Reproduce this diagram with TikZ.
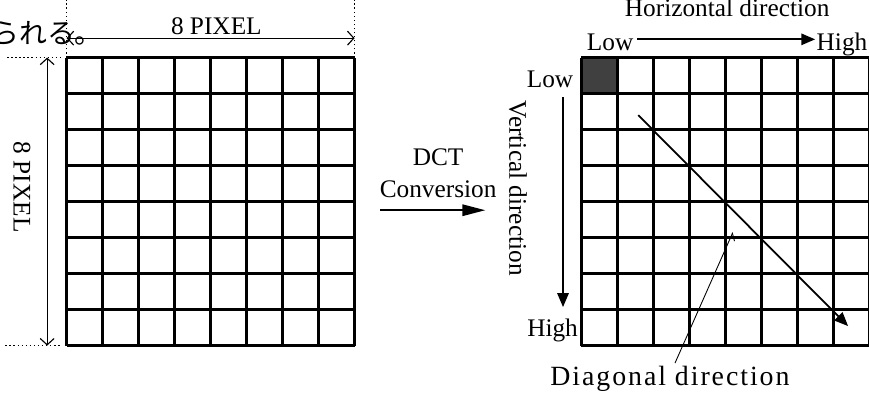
\documentclass[tikz,border=0pt]{standalone}
\usepackage{fontspec}
\setmainfont{Liberation Serif}
\newfontfamily\jpfont{Noto Sans CJK JP}
\usetikzlibrary{arrows.meta}

\begin{document}
\begin{tikzpicture}[
    font=\fontsize{20}{24}\selectfont,
    cell/.style={line width=1.8pt},
    guide/.style={dotted, line width=1.2pt},
    dim/.style={line width=0.9pt,
      {Straight Barb[length=5pt,width=11pt]}-{Straight Barb[length=5pt,width=11pt]}},
    fat/.style={line width=1.4pt, -{Triangle[length=11pt,width=9pt]}},
    pointer/.style={line width=0.7pt, -{Straight Barb[harpoon,swap,length=5pt,width=8pt]}},
  ]
  \useasboundingbox (-1.85,-1.46) rectangle (22.29,9.6);

  % the 8x8 block
  \draw [cell] (0,0) grid (8,8);

  \draw [guide] (0,8) -- (0,9.6);
  \draw [guide] (8,8) -- (8,9.6);
  \draw [guide] (-1.65,8) -- (-0.15,8);
  \draw [guide] (-1.7,0) -- (-0.15,0);

  \node [anchor=east, inner sep=0, font=\jpfont\fontsize{22}{26}\selectfont] (tail) at (1.01,8.66) {られる。};

  \coordinate (w0) at (0,8.54);
  \coordinate (w1) at (8,8.54);
  \draw [dim] (w0) -- node[above, inner sep=2pt, pos=0.52] (wlabel) {8 PIXEL} (w1);

  \coordinate (h0) at (-0.54,8);
  \coordinate (h1) at (-0.54,0);
  \draw [dim] (h0) -- (h1);
  \node [rotate=-90] (hlabel) at (-1.24,4.4) {8 PIXEL};


  % DCT step
  \node [anchor=base] (dct) at (10.32,5.01) {DCT};
  \node [anchor=base] (conv) at (10.32,4.125) {Conversion};
  \coordinate (c0) at (8.71,3.76);
  \coordinate (c1) at (11.63,3.76);
  \draw [line width=1.3pt, -{Triangle[length=18pt,width=9pt]}] (c0) -- (c1);


  % coefficient block
  \fill [black!75] (14.3,7) rectangle (15.3,8);
  \draw [cell, shift={(14.3,0)}] (0,0) grid (8,8);

  \node [anchor=base, inner sep=0] (hdir) at (18.35,9.15) {Horizontal direction};
  \node [anchor=base, inner sep=3pt] (lowh) at (15.1,8.21) {Low};
  \node [anchor=base, inner sep=1pt] (highh) at (21.54,8.21) {High};
  \draw [fat] ([yshift=2pt]lowh.east) -- ([yshift=2pt]lowh.east -| highh.west);

  \node [anchor=base] (lowv) at (13.43,7.18) {Low};
  \node [anchor=base] (highv) at (13.5,0.24) {High};
  \coordinate (v0) at (13.79,6.9);
  \coordinate (v1) at (13.79,1.07);
  \draw [fat] (v0) -- (v1);
  \node [rotate=-90] (vdir) at (12.54,4.37) {Vertical direction};

  \coordinate (d0) at (15.88,6.40);
  \coordinate (d1) at (21.71,0.54);
  \draw [fat] (d0) -- (d1);

  \node [anchor=base, inner sep=2pt] (ddir) at (16.76,-1.1) {\fontsize{22}{26}\selectfont\addfontfeature{LetterSpace=7}Diagonal direction};
  \coordinate (dtip) at (18.51,3.15);
  \draw [pointer] ([xshift=4pt]ddir.north) -- (dtip);
\end{tikzpicture}
\end{document}
